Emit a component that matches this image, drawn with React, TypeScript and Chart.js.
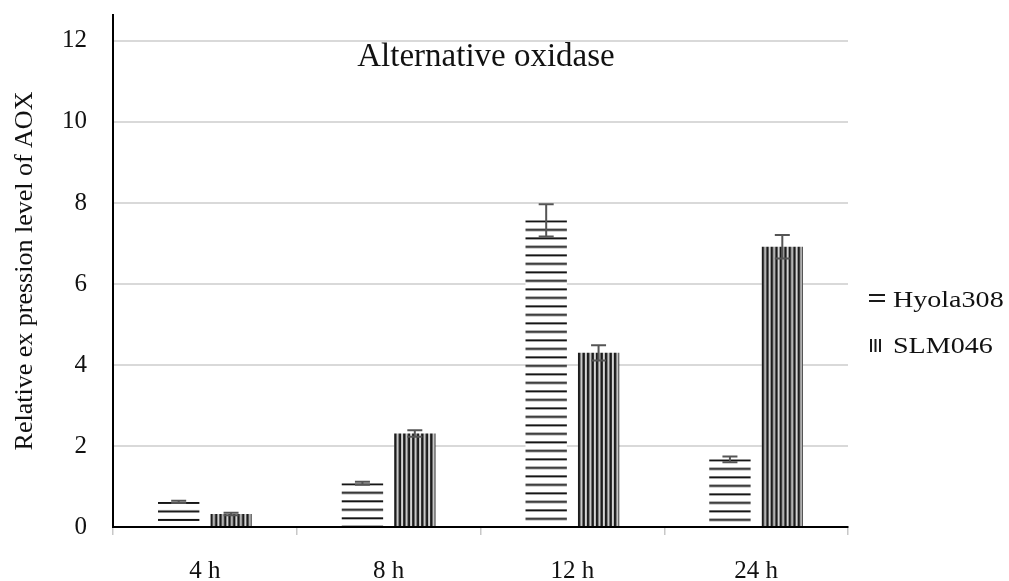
import React, { useEffect, useRef } from 'react';
import { Chart, registerables } from 'chart.js';

Chart.register(...registerables);

const categories = ['4 h', '8 h', '12 h', '24 h'];
const seriesNames = ['Hyola308', 'SLM046'];
const hyolaValues = [0.62, 1.08, 7.57, 1.67];
const hyolaErrors = [0.03, 0.04, 0.4, 0.07];
const slmValues = [0.32, 2.31, 4.3, 6.92];
const slmErrors = [0.03, 0.08, 0.19, 0.29];
const yTicks = [0, 2, 4, 6, 8, 10, 12];
const chartTitle = 'Alternative oxidase';
const yTitle = 'Relative ex pression level of AOX';

const CAT_PCT = 0.57;
const BAR_PCT = 0.79;
const SERIF = '"Liberation Serif", "DejaVu Serif", serif';
const TEXT = '#111';

function makeTile(kind: 'h' | 'v'): HTMLCanvasElement {
  const c = document.createElement('canvas');
  const g = c.getContext('2d')!;
  if (kind === 'h') {
    c.width = 4;
    c.height = 17;
    g.fillStyle = '#ffffff';
    g.fillRect(0, 0, 4, 17);
    g.fillStyle = '#151515';
    g.fillRect(0, 0, 4, 2);
    g.fillRect(0, 8.5, 4, 2);
  } else {
    c.width = 9;
    c.height = 4;
    g.fillStyle = '#d4d4d4';
    g.fillRect(0, 0, 9, 4);
    g.fillStyle = '#1c1c1c';
    g.fillRect(0, 0, 2.5, 4);
    g.fillRect(4.5, 0, 2.5, 4);
  }
  return c;
}

export default function App() {
  const ref = useRef<HTMLCanvasElement | null>(null);

  useEffect(() => {
    const canvas = ref.current;
    if (!canvas) return;
    const tiles = [makeTile('h'), makeTile('v')];

    const patternFor = (dsIndex: number) => (ctx: any) => {
      const chart = ctx.chart;
      const c2d = chart.ctx as CanvasRenderingContext2D;
      const p = c2d.createPattern(tiles[dsIndex], 'repeat')!;
      const xs = chart.scales?.x;
      const ys = chart.scales?.y;
      if (ctx.type === 'data' && xs && ys && xs.width > 0) {
        const i = ctx.dataIndex;
        const catW = xs.width / categories.length;
        const slot = (catW * CAT_PCT) / 2;
        const barW = slot * BAR_PCT;
        const center = xs.getPixelForValue(i);
        const left = center + (dsIndex === 0 ? -slot / 2 : slot / 2) - barW / 2;
        const top = ys.getPixelForValue(ctx.raw);
        p.setTransform(new DOMMatrix().translate(left, top));
      }
      return p;
    };

    const errorBars = {
      id: 'errorBars',
      afterDatasetsDraw(chart: any) {
        const g = chart.ctx as CanvasRenderingContext2D;
        const ys = chart.scales.y;
        [hyolaErrors, slmErrors].forEach((errs, di) => {
          const meta = chart.getDatasetMeta(di);
          const vals = chart.data.datasets[di].data as number[];
          meta.data.forEach((bar: any, i: number) => {
            const v = vals[i];
            const yT = ys.getPixelForValue(v + errs[i]);
            const yB = ys.getPixelForValue(v - errs[i]);
            g.save();
            g.strokeStyle = '#555';
            g.lineWidth = 2;
            g.beginPath();
            g.moveTo(bar.x, yT);
            g.lineTo(bar.x, yB);
            g.moveTo(bar.x - 7.5, yT);
            g.lineTo(bar.x + 7.5, yT);
            g.moveTo(bar.x - 7.5, yB);
            g.lineTo(bar.x + 7.5, yB);
            g.stroke();
            g.restore();
          });
        });
      },
    };

    const decorations = {
      id: 'decorations',
      afterDraw(chart: any) {
        const g = chart.ctx as CanvasRenderingContext2D;
        const area = chart.chartArea;
        g.save();
        g.fillStyle = TEXT;
        g.textBaseline = 'alphabetic';
        g.textAlign = 'center';
        g.font = `33px ${SERIF}`;
        g.fillText(chartTitle, 486, 66);

        // legend
        const lx = area.right + 21;
        g.textAlign = 'left';
        g.font = `23px ${SERIF}`;
        g.strokeStyle = '#1a1a1a';
        g.lineWidth = 2;
        g.beginPath();
        g.moveTo(lx, 295);
        g.lineTo(lx + 16, 295);
        g.moveTo(lx, 301);
        g.lineTo(lx + 16, 301);
        g.stroke();
        g.beginPath();
        for (let k = 0; k < 3; k++) {
          const x = lx + 2 + k * 4.5;
          g.moveTo(x, 339);
          g.lineTo(x, 352);
        }
        g.stroke();
        const tx = lx + 24;
        g.save();
        g.translate(tx, 0);
        g.scale(1.22, 1);
        g.fillText(seriesNames[0], 0, 307);
        g.fillText(seriesNames[1], 0, 353);
        g.restore();
        g.restore();
      },
    };

    const chart = new Chart(canvas, {
      type: 'bar',
      data: {
        labels: categories,
        datasets: [
          {
            label: seriesNames[0],
            data: hyolaValues,
            backgroundColor: patternFor(0) as any,
            borderWidth: 0,
            categoryPercentage: CAT_PCT,
            barPercentage: BAR_PCT,
          },
          {
            label: seriesNames[1],
            data: slmValues,
            backgroundColor: patternFor(1) as any,
            borderWidth: 0,
            categoryPercentage: CAT_PCT,
            barPercentage: BAR_PCT,
          },
        ],
      },
      options: {
        animation: false,
        responsive: true,
        maintainAspectRatio: false,
        layout: { padding: { top: 15, right: 161, left: 0, bottom: 0 } },
        plugins: {
          legend: { display: false },
          title: { display: false },
          tooltip: { enabled: false },
        },
        scales: {
          x: {
            afterFit: (s: any) => {
              s.height = 54;
              s.paddingLeft = 0;
              s.paddingRight = 0;
            },
            border: { display: true, color: '#000', width: 2 },
            grid: {
              drawOnChartArea: false,
              drawTicks: true,
              tickLength: 8,
              color: '#c8c8c8',
              lineWidth: 1.5,
              offset: true,
            },
            ticks: { padding: 21, color: TEXT, font: { family: SERIF, size: 25 } },
          },
          y: {
            min: 0,
            max: 12.64,
            afterBuildTicks: (s: any) => {
              s.ticks = yTicks.map((v) => ({ value: v }));
            },
            afterFit: (s: any) => {
              s.width = 113;
              s.paddingTop = 0;
              s.paddingBottom = 0;
            },
            border: { display: true, color: '#000', width: 2 },
            grid: {
              drawTicks: false,
              lineWidth: 2,
              color: (c: any) => (c.tick && c.tick.value === 0 ? 'rgba(0,0,0,0)' : '#d9d9d9'),
            },
            ticks: { padding: 26, color: TEXT, font: { family: SERIF, size: 25 } },
            title: {
              display: true,
              text: yTitle,
              color: TEXT,
              font: { family: SERIF, size: 26 },
              padding: { top: 10, bottom: 0 },
            },
          },
        },
      },
      plugins: [errorBars, decorations],
    });

    return () => chart.destroy();
  }, []);

  return (
    <div style={{ position: 'fixed', left: 0, top: 0, width: 1009, height: 581, background: '#fff' }}>
      <canvas ref={ref} />
    </div>
  );
}
